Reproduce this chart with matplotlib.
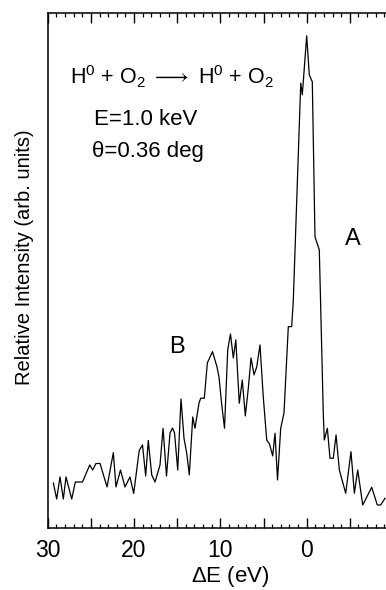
import matplotlib
matplotlib.use("Agg")
import matplotlib.pyplot as plt
from matplotlib.ticker import MultipleLocator, FuncFormatter

plt.rcParams['font.family'] = ['Liberation Sans', 'DejaVu Sans']
plt.rcParams['mathtext.fontset'] = 'custom'
plt.rcParams['mathtext.rm'] = 'Liberation Sans'
plt.rcParams['mathtext.it'] = 'Liberation Sans'
plt.rcParams['mathtext.bf'] = 'Liberation Sans'
plt.rcParams['mathtext.fallback'] = 'stixsans'

# Energy loss (eV) and relative intensity (arb. units, peak = 100)
energy = [29.35, 28.96, 28.58, 28.19, 27.88, 27.22, 26.80, 25.97, 25.13, 24.79,
          24.41, 23.94, 23.13, 22.40, 22.09, 21.57, 21.05, 20.47, 20.04, 19.40,
          19.02, 18.65, 18.35, 17.95, 17.57, 16.99, 16.64, 16.24, 15.83, 15.54,
          15.31, 14.94, 14.56, 14.21, 13.90, 13.60, 13.20, 12.94, 12.47, 12.28,
          11.86, 11.51, 10.91, 10.39, 10.16, 9.84, 9.52, 9.15, 8.83, 8.50,
          8.21, 7.81, 7.46, 7.11, 6.76, 6.45, 6.10, 5.79, 5.41, 5.03,
          4.63, 4.31, 3.94, 3.67, 3.38, 3.01, 2.63, 2.13, 1.74, 1.55,
          0.69, 0.51, 0.00, -0.30, -0.65, -0.96, -1.46, -1.92, -2.04, -2.39,
          -2.70, -3.08, -3.40, -3.78, -4.52, -5.13, -5.52, -5.91, -6.49, -7.53,
          -8.18, -8.57, -9.07]
intensity = [9.20, 5.95, 10.42, 5.95, 10.42, 5.95, 9.40, 9.40, 12.86, 11.84,
             13.16, 13.16, 8.39, 15.36, 8.39, 11.84, 8.39, 10.42, 7.07, 15.80,
             16.92, 10.62, 17.83, 10.83, 9.40, 12.86, 20.31, 10.62, 19.36, 20.37,
             19.36, 11.84, 26.26, 18.24, 15.30, 10.83, 22.61, 20.31, 25.45, 26.41,
             26.41, 33.58, 35.87, 32.76, 30.73, 25.05, 20.31, 36.22, 39.47, 34.59,
             38.25, 25.39, 30.12, 22.81, 28.50, 34.59, 31.14, 32.76, 37.23, 26.67,
             17.94, 17.12, 14.69, 19.30, 9.81, 20.31, 23.42, 40.95, 40.95, 46.37,
             90.39, 88.02, 100.0, 92.08, 90.66, 59.17, 56.53, 23.42, 17.94, 20.31,
             14.22, 14.22, 18.95, 11.84, 7.11, 15.56, 7.11, 11.84, 4.73, 8.33,
             4.73, 4.73, 6.09]

xlim = (30, -10)
ylim = (0, 104.7)
major_ticks = 5
labelled_ticks = [30, 20, 10, 0]


def tick_text(v, pos):
    for t in labelled_ticks:
        if abs(v - t) < 1e-6:
            return str(t)
    return ""


fig = plt.figure(figsize=(3.86, 5.90), dpi=100)
ax = fig.add_axes([0.1236, 0.1046, 0.8946, 0.8739])
ax.plot(energy, intensity, color='black', lw=0.9)
ax.set_xlim(*xlim)
ax.set_ylim(*ylim)

for s in ax.spines.values():
    s.set_linewidth(1.1)

ax.xaxis.set_major_locator(MultipleLocator(major_ticks))
ax.xaxis.set_minor_locator(MultipleLocator(1))
ax.xaxis.set_major_formatter(FuncFormatter(tick_text))
ax.tick_params(axis='x', which='major', direction='in', length=7, width=1,
               top=True, bottom=True, labelsize=16.5, pad=8)
ax.tick_params(axis='x', which='minor', direction='in', length=3.2, width=0.9,
               top=True, bottom=True)
ax.set_yticks([])

ax.set_xlabel(r'$\Delta$E (eV)', fontsize=16)
ax.xaxis.set_label_coords(0.528, -0.094)
ax.xaxis.label.set_va('center')
ax.set_ylabel('Relative Intensity (arb. units)', fontsize=14.5)
ax.yaxis.set_label_coords(-0.066, 0.526)
ax.yaxis.label.set_va('center')

ax.text(0.0646, 0.8617,
        r'H$^{\mathregular{0}}$ + O$_{\mathregular{2}}$ $\longrightarrow$ H$^{\mathregular{0}}$ + O$_{\mathregular{2}}$',
        transform=ax.transAxes, fontsize=15.5, va='baseline', ha='left')
ax.text(0.135, 0.782, 'E=1.0 keV', transform=ax.transAxes, fontsize=16,
        va='baseline', ha='left')
ax.text(0.128, 0.720, 'θ=0.36 deg', transform=ax.transAxes, fontsize=16,
        va='baseline', ha='left')
ax.text(-5.37, 58.8, 'A', fontsize=17, ha='center', va='center')
ax.text(15.08, 36.9, 'B', fontsize=17, ha='center', va='center')

fig.savefig('out.png', dpi=100)
